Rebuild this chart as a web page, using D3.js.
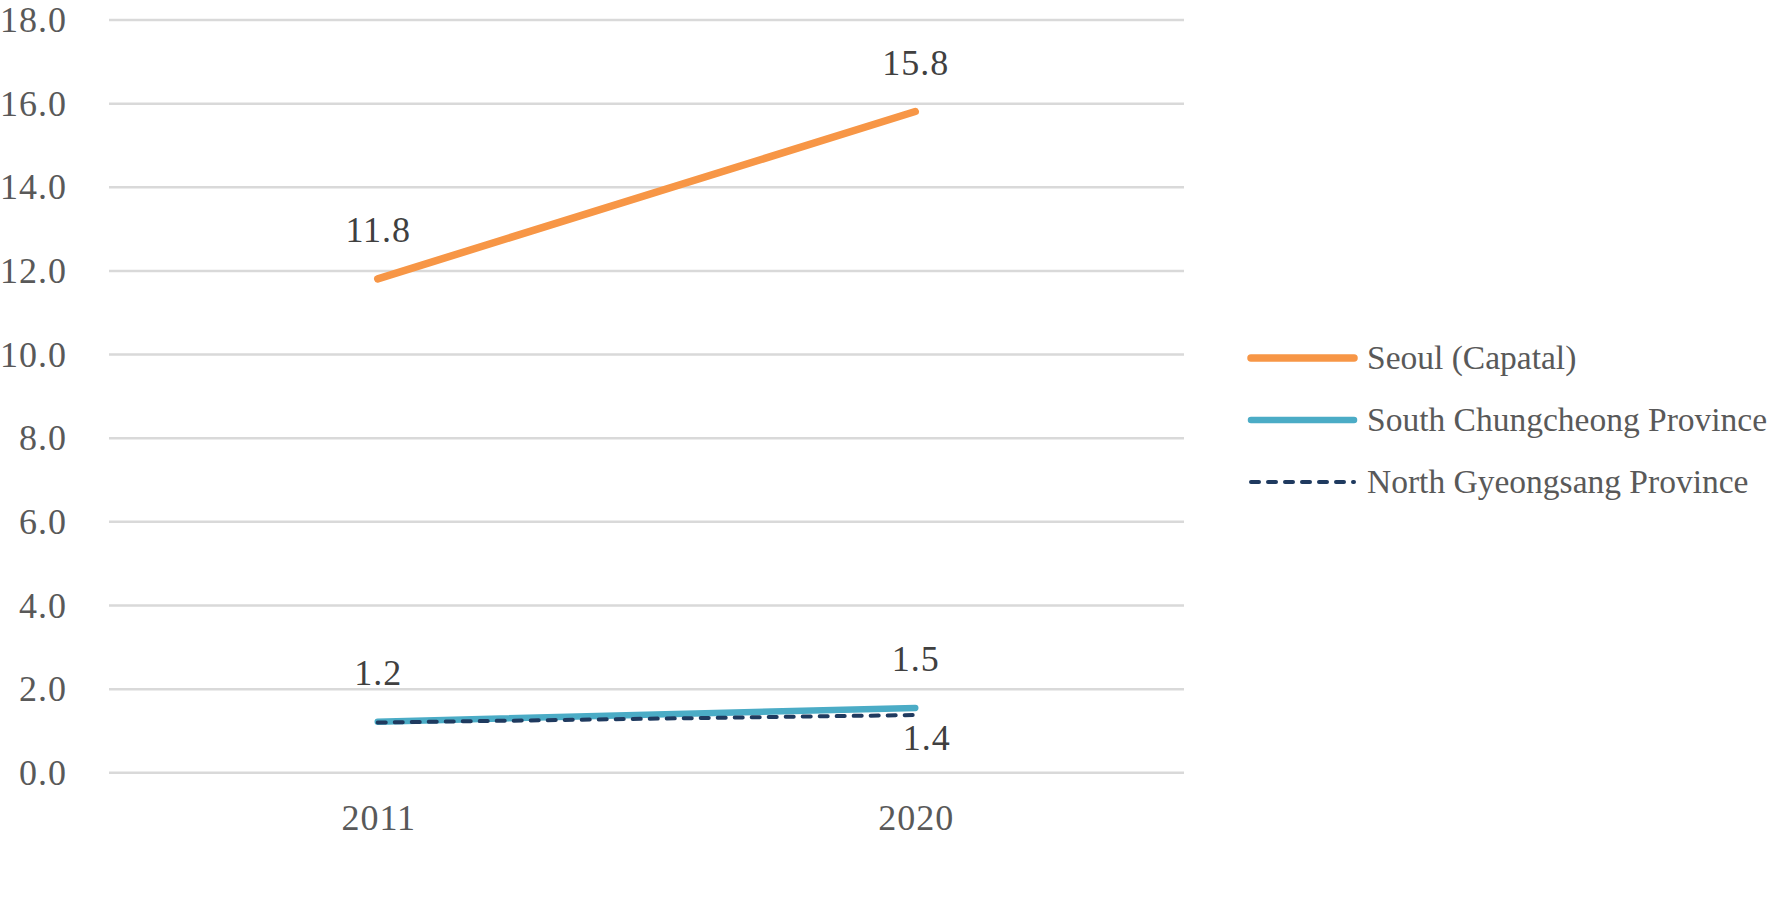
<!DOCTYPE html>
<html>
<head>
<meta charset="utf-8">
<script src="https://cdn.jsdelivr.net/npm/d3@7"></script>
<style>
  html, body { margin: 0; padding: 0; background: #ffffff; }
  svg { display: block; }
  text { font-family: "Liberation Serif", "DejaVu Serif", serif; }
</style>
</head>
<body>
<svg id="chart" width="1775" height="921"></svg>
<script>
const categories = ["2011", "2020"];
const seriesNames = ["Seoul (Capatal)", "South Chungcheong Province", "North Gyeongsang Province"];
const seoulValues = [11.8, 15.8];
const southChungcheongValues = [1.21, 1.54];
const northGyeongsangValues = [1.19, 1.37];
const yTicks = [0, 2, 4, 6, 8, 10, 12, 14, 16, 18];

const series = [
  { name: seriesNames[0], values: seoulValues, color: "#F79646", width: 7.5, dash: null, labelPos: ["above", "above"] },
  { name: seriesNames[1], values: southChungcheongValues, color: "#4BACC6", width: 6.5, dash: null, labelPos: ["above", "above"] },
  { name: seriesNames[2], values: northGyeongsangValues, color: "#1F3A5F", width: 4, dash: "8,9", labelPos: [null, "below"] }
];

const svg = d3.select("#chart");
const plot = { left: 109, right: 1184, top: 19.5, bottom: 772.3 };

const x = d3.scalePoint().domain(categories).range([plot.left, plot.right]).padding(0.5);
const y = d3.scaleLinear().domain([0, 18]).range([plot.bottom, plot.top]);

const numFont = "36px";
const numSpacing = "1px";

// gridlines
const grid = svg.append("g")
  .attr("transform", `translate(${plot.left},0)`)
  .call(d3.axisLeft(y).tickValues(yTicks).tickSize(-(plot.right - plot.left)).tickFormat(""));
grid.select(".domain").remove();
grid.selectAll(".tick line").attr("stroke", "#D9D9D9").attr("stroke-width", 2.5);

// y tick labels
const yAxis = svg.append("g")
  .attr("transform", `translate(67,0)`)
  .call(d3.axisLeft(y).tickValues(yTicks).tickSize(0).tickPadding(0).tickFormat(d3.format(".1f")));
yAxis.select(".domain").remove();
yAxis.selectAll(".tick text")
  .attr("fill", "#595959")
  .style("font-size", numFont)
  .style("letter-spacing", numSpacing)
  .style("font-family", "'Liberation Serif', serif")
  .attr("dy", null)
  .attr("y", 12)
  .attr("text-anchor", "end");

// x axis labels
const xAxis = svg.append("g")
  .attr("transform", `translate(0,${plot.bottom})`)
  .call(d3.axisBottom(x).tickSize(0).tickPadding(0));
xAxis.select(".domain").remove();
xAxis.selectAll(".tick text")
  .attr("fill", "#595959")
  .style("font-size", numFont)
  .style("letter-spacing", numSpacing)
  .style("font-family", "'Liberation Serif', serif")
  .attr("dy", null)
  .attr("x", 0.5)
  .attr("y", 58);

// lines
const line = d3.line().x((d, i) => x(categories[i])).y(d => y(d));
series.forEach(s => {
  svg.append("path")
    .datum(s.values)
    .attr("d", line)
    .attr("fill", "none")
    .attr("stroke", s.color)
    .attr("stroke-width", s.width)
    .attr("stroke-linecap", "round")
    .attr("stroke-dasharray", s.dash);
});

// data labels
const fmt = d3.format(".1f");
series.forEach(s => {
  s.values.forEach((v, i) => {
    const pos = s.labelPos[i];
    if (!pos) return;
    svg.append("text")
      .attr("x", x(categories[i]) + (pos === "below" ? 11 : 0) + 0.5)
      .attr("y", pos === "above" ? y(v) - 37 : y(v) + 35)
      .attr("text-anchor", "middle")
      .attr("fill", "#404040")
      .style("font-size", numFont)
      .style("letter-spacing", numSpacing)
      .text(fmt(v));
  });
});

// legend
const legendX1 = 1251, legendX2 = 1354, legendY0 = 358, legendStep = 62;
series.forEach((s, i) => {
  const ly = legendY0 + i * legendStep;
  svg.append("line")
    .attr("x1", legendX1).attr("x2", legendX2)
    .attr("y1", ly).attr("y2", ly)
    .attr("stroke", s.color)
    .attr("stroke-width", s.width)
    .attr("stroke-linecap", "round")
    .attr("stroke-dasharray", s.dash);
  svg.append("text")
    .attr("x", 1367)
    .attr("y", ly + 11)
    .attr("fill", "#595959")
    .style("font-size", "33.5px")
    .text(s.name);
});
</script>
</body>
</html>
